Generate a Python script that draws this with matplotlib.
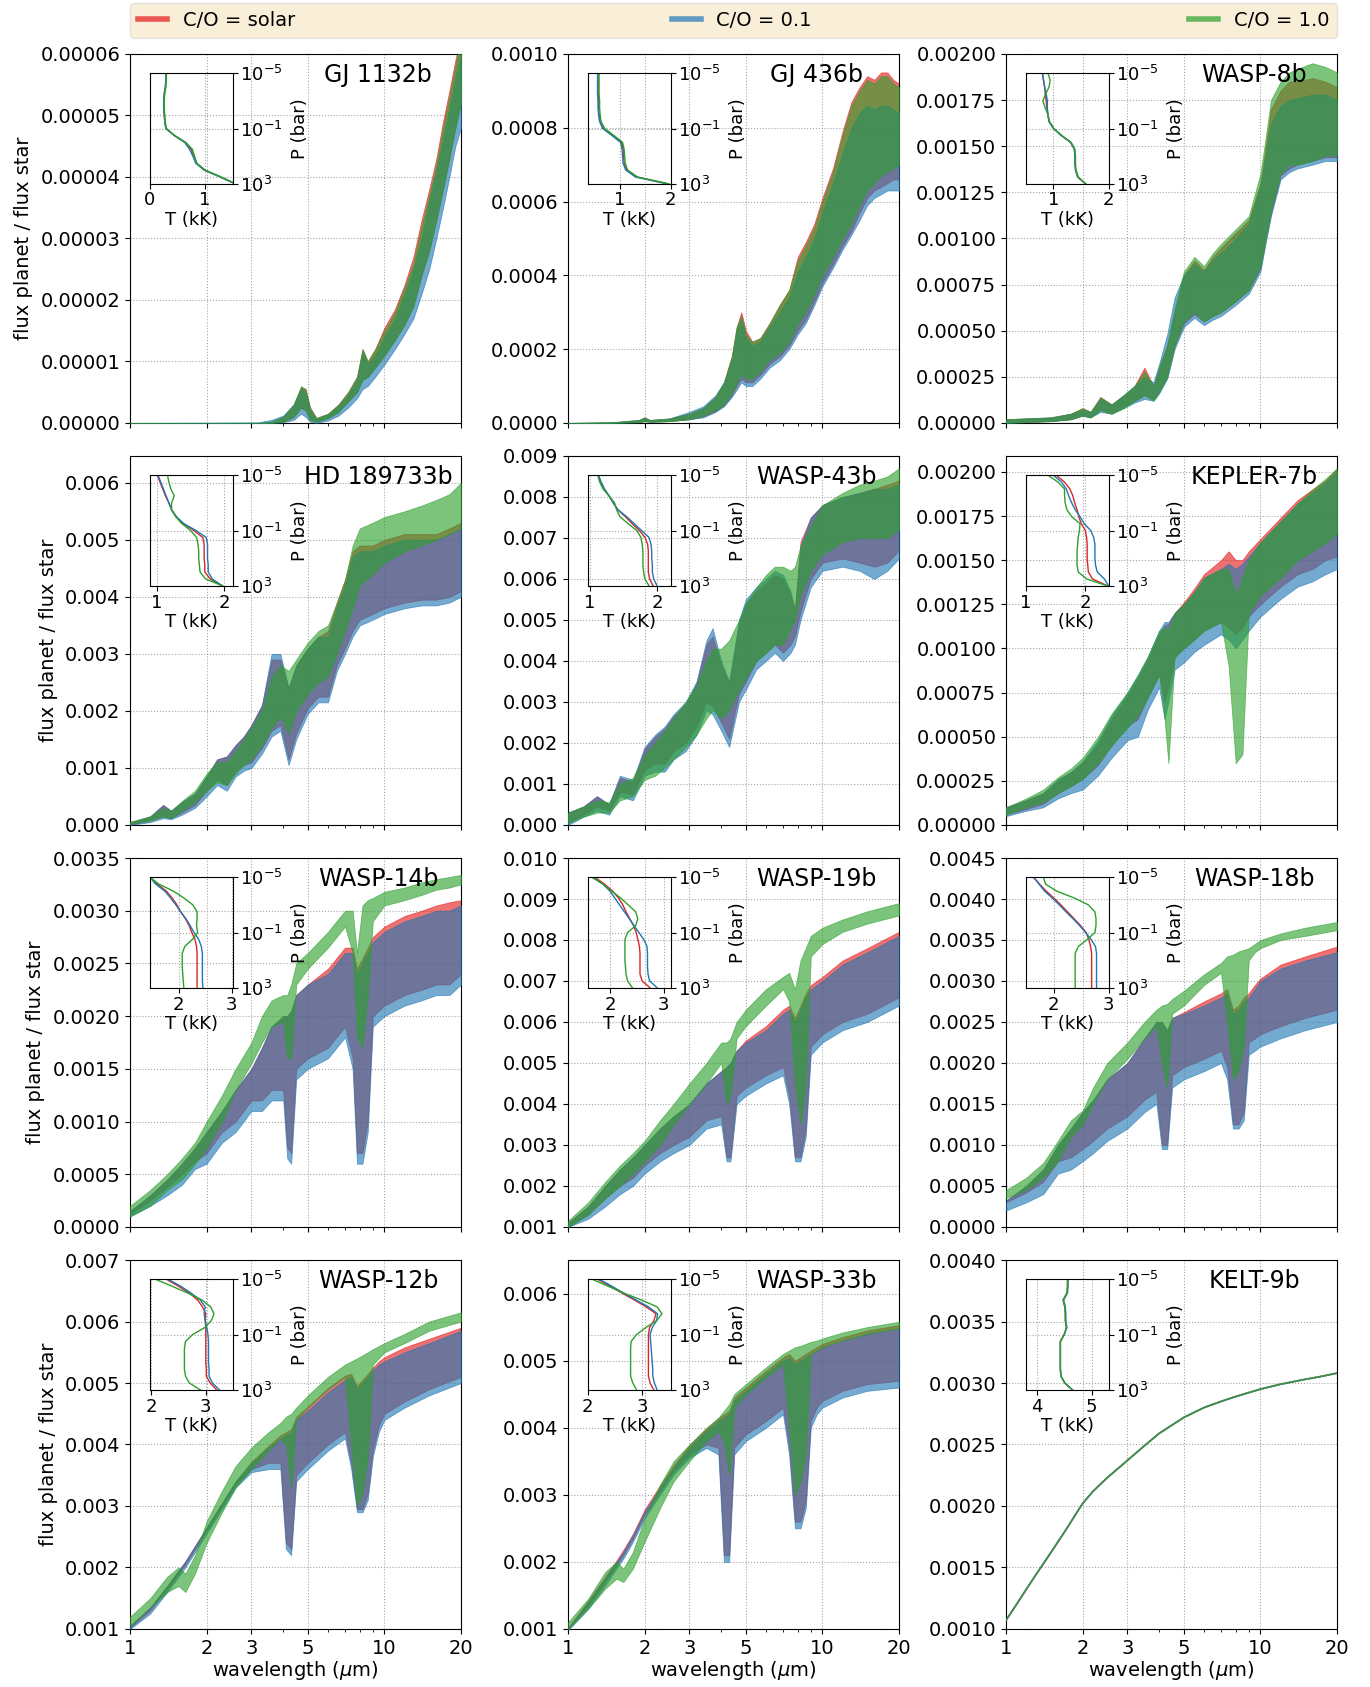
import matplotlib
matplotlib.use("Agg")
import matplotlib.pyplot as plt
import numpy as np
from matplotlib.lines import Line2D
from matplotlib.ticker import (MultipleLocator, FixedLocator, NullFormatter,
                               NullLocator, ScalarFormatter, FixedFormatter)

# pressure grid of the T-P insets, log10(P / bar)
logp = [-5, -4.5, -4, -3.5, -3, -2.5, -2, -1.5, -1, -0.5, 0, 0.5, 1, 1.5, 2, 2.5, 3]

# ---------------- GJ 1132b (flux ratio in 1e-5) ----------------
gj1132b_wl = [1.0, 3.2, 3.6, 4.0, 4.4, 4.7, 4.9, 5.1, 5.4, 6.0, 6.6, 7.2, 7.8, 8.2, 8.6, 9.2,
              10, 11, 12, 13, 14, 15, 16, 17, 18, 19, 20]
gj1132b_red_hi = [0, 0, 0.02, 0.1, 0.3, 0.58, 0.55, 0.25, 0.08, 0.15, 0.3, 0.5, 0.75, 1.2, 1.0, 1.2,
                  1.55, 1.85, 2.25, 2.7, 3.3, 3.8, 4.3, 4.9, 5.4, 5.9, 6.3]
gj1132b_red_lo = [0, 0, 0, 0.02, 0.1, 0.25, 0.2, 0.05, 0.02, 0.08, 0.18, 0.35, 0.5, 0.7, 0.75, 0.9,
                  1.1, 1.35, 1.6, 1.9, 2.4, 2.8, 3.3, 3.8, 4.3, 4.8, 5.2]
gj1132b_blue_hi = [0, 0.01, 0.05, 0.12, 0.3, 0.55, 0.5, 0.2, 0.07, 0.14, 0.28, 0.45, 0.7, 1.15, 0.95, 1.1,
                   1.4, 1.7, 2.1, 2.5, 3.0, 3.6, 4.1, 4.6, 5.1, 5.6, 6.0]
gj1132b_blue_lo = [0, 0, 0, 0.01, 0.05, 0.15, 0.1, 0.02, 0.0, 0.04, 0.12, 0.25, 0.4, 0.55, 0.6, 0.75,
                   0.95, 1.2, 1.45, 1.7, 2.1, 2.5, 3.0, 3.5, 4.0, 4.5, 4.8]
gj1132b_green_hi = [0, 0, 0.02, 0.1, 0.3, 0.6, 0.55, 0.25, 0.08, 0.15, 0.3, 0.5, 0.75, 1.2, 1.0, 1.2,
                    1.5, 1.8, 2.2, 2.6, 3.2, 3.7, 4.2, 4.8, 5.3, 5.8, 6.3]
gj1132b_green_lo = [0, 0, 0, 0.02, 0.1, 0.25, 0.2, 0.05, 0.02, 0.08, 0.18, 0.35, 0.5, 0.7, 0.75, 0.9,
                    1.1, 1.35, 1.6, 1.9, 2.4, 2.8, 3.3, 3.8, 4.3, 4.8, 5.2]
gj1132b_t_red = [0.29, 0.29, 0.28, 0.26, 0.25, 0.25, 0.26, 0.27, 0.29, 0.44, 0.64, 0.75, 0.80, 0.84, 0.99, 1.28, 1.55]
gj1132b_t_blue = [0.29, 0.29, 0.28, 0.26, 0.25, 0.25, 0.26, 0.27, 0.29, 0.44, 0.63, 0.72, 0.78, 0.83, 0.98, 1.27, 1.55]
gj1132b_t_green = [0.30, 0.30, 0.29, 0.27, 0.26, 0.26, 0.27, 0.28, 0.30, 0.45, 0.65, 0.77, 0.81, 0.85, 1.00, 1.29, 1.56]

# ---------------- GJ 436b (1e-4) ----------------
gj436b_wl = [1.0, 1.5, 1.9, 2.0, 2.1, 2.5, 3.0, 3.4, 3.8, 4.1, 4.4, 4.6, 4.8, 5.0, 5.3, 5.7, 6.2, 6.8,
             7.4, 8.0, 8.6, 9.3, 10, 11, 12, 13, 14, 15, 16, 17, 18, 19, 20]
gj436b_red_hi = [0, 0.02, 0.08, 0.15, 0.08, 0.12, 0.25, 0.4, 0.7, 1.1, 1.8, 2.6, 3.0, 2.5, 2.2, 2.3, 2.7, 3.2,
                 3.6, 4.5, 4.9, 5.4, 6.1, 6.9, 7.9, 8.7, 9.1, 9.4, 9.3, 9.5, 9.5, 9.3, 9.2]
gj436b_red_lo = [0, 0, 0.02, 0.05, 0.03, 0.05, 0.1, 0.18, 0.32, 0.48, 0.75, 1.0, 1.2, 1.1, 1.1, 1.3, 1.6, 1.8,
                 2.1, 2.5, 2.8, 3.3, 3.8, 4.3, 4.8, 5.2, 5.7, 6.1, 6.3, 6.4, 6.5, 6.6, 6.6]
gj436b_blue_hi = [0, 0.02, 0.08, 0.14, 0.08, 0.12, 0.3, 0.45, 0.75, 1.1, 1.7, 2.5, 2.8, 2.3, 2.1, 2.2, 2.6, 3.0,
                  3.4, 4.1, 4.5, 5.0, 5.7, 6.5, 7.3, 8.0, 8.4, 8.6, 8.5, 8.6, 8.6, 8.5, 8.4]
gj436b_blue_lo = [0, 0, 0.02, 0.05, 0.03, 0.05, 0.1, 0.15, 0.3, 0.45, 0.7, 0.9, 1.1, 1.0, 1.0, 1.2, 1.5, 1.7,
                  2.0, 2.4, 2.7, 3.2, 3.7, 4.2, 4.7, 5.1, 5.5, 5.9, 6.1, 6.2, 6.3, 6.3, 6.3]
gj436b_green_hi = [0, 0.02, 0.08, 0.15, 0.08, 0.12, 0.25, 0.4, 0.7, 1.1, 1.8, 2.6, 2.9, 2.4, 2.2, 2.3, 2.7, 3.2,
                   3.6, 4.4, 4.8, 5.3, 6.0, 6.8, 7.8, 8.6, 9.0, 9.3, 9.2, 9.4, 9.4, 9.2, 9.1]
gj436b_green_lo = [0, 0, 0.02, 0.05, 0.03, 0.05, 0.1, 0.2, 0.35, 0.5, 0.8, 1.1, 1.3, 1.2, 1.2, 1.4, 1.7, 1.9,
                   2.2, 2.7, 3.0, 3.5, 4.0, 4.5, 5.0, 5.4, 5.9, 6.3, 6.5, 6.7, 6.8, 6.9, 7.0]
gj436b_t_red = [0.58, 0.58, 0.58, 0.58, 0.59, 0.59, 0.60, 0.62, 0.69, 0.87, 1.04, 1.07, 1.08, 1.09, 1.14, 1.33, 1.95]
gj436b_t_blue = [0.57, 0.57, 0.57, 0.57, 0.58, 0.58, 0.59, 0.61, 0.67, 0.85, 1.02, 1.05, 1.06, 1.07, 1.12, 1.31, 1.93]
gj436b_t_green = [0.60, 0.60, 0.60, 0.60, 0.61, 0.61, 0.62, 0.64, 0.71, 0.89, 1.06, 1.09, 1.10, 1.11, 1.16, 1.35, 1.97]

# ---------------- WASP-8b (1e-3) ----------------
wasp8b_wl = [1.0, 1.5, 1.8, 2.0, 2.15, 2.35, 2.6, 2.9, 3.2, 3.5, 3.8, 4.0, 4.3, 4.6, 5.0, 5.5, 6.0, 6.5,
             7.0, 8.0, 9.0, 10, 10.5, 11, 12, 13, 14, 16, 18, 20]
wasp8b_red_hi = [0.02, 0.03, 0.05, 0.08, 0.06, 0.14, 0.1, 0.15, 0.2, 0.3, 0.2, 0.3, 0.42, 0.6, 0.8, 0.88, 0.83, 0.9,
                 0.95, 1.03, 1.1, 1.3, 1.5, 1.7, 1.8, 1.85, 1.85, 1.87, 1.85, 1.82]
wasp8b_red_lo = [0.0, 0.01, 0.02, 0.04, 0.03, 0.07, 0.05, 0.09, 0.12, 0.15, 0.13, 0.17, 0.25, 0.42, 0.54, 0.59, 0.55, 0.58,
                 0.6, 0.66, 0.72, 0.84, 1.0, 1.14, 1.34, 1.38, 1.4, 1.42, 1.44, 1.44]
wasp8b_blue_hi = [0.02, 0.03, 0.05, 0.07, 0.06, 0.13, 0.1, 0.15, 0.2, 0.25, 0.22, 0.32, 0.48, 0.68, 0.8, 0.86, 0.82, 0.88,
                  0.92, 1.0, 1.08, 1.28, 1.45, 1.62, 1.72, 1.75, 1.76, 1.78, 1.78, 1.75]
wasp8b_blue_lo = [0.0, 0.01, 0.02, 0.04, 0.03, 0.06, 0.05, 0.08, 0.11, 0.13, 0.12, 0.16, 0.24, 0.4, 0.52, 0.57, 0.53, 0.56,
                  0.58, 0.64, 0.7, 0.82, 0.98, 1.12, 1.32, 1.36, 1.38, 1.4, 1.42, 1.42]
wasp8b_green_hi = [0.02, 0.03, 0.05, 0.08, 0.06, 0.14, 0.1, 0.15, 0.2, 0.28, 0.2, 0.3, 0.42, 0.62, 0.82, 0.9, 0.85, 0.92,
                   0.97, 1.05, 1.12, 1.35, 1.55, 1.75, 1.85, 1.9, 1.92, 1.95, 1.93, 1.9]
wasp8b_green_lo = [0.0, 0.01, 0.02, 0.04, 0.03, 0.07, 0.05, 0.08, 0.12, 0.15, 0.12, 0.17, 0.25, 0.42, 0.55, 0.6, 0.55, 0.58,
                   0.6, 0.66, 0.72, 0.85, 1.0, 1.15, 1.35, 1.4, 1.4, 1.42, 1.45, 1.45]
wasp8b_t_red = [0.80, 0.82, 0.84, 0.85, 0.87, 0.88, 0.90, 0.92, 1.00, 1.14, 1.31, 1.38, 1.39, 1.39, 1.40, 1.44, 1.58]
wasp8b_t_blue = [0.80, 0.82, 0.84, 0.87, 0.89, 0.89, 0.90, 0.92, 1.00, 1.14, 1.31, 1.38, 1.39, 1.39, 1.40, 1.44, 1.58]
wasp8b_t_green = [0.90, 0.94, 0.92, 0.86, 0.81, 0.85, 0.90, 0.93, 1.01, 1.15, 1.32, 1.39, 1.40, 1.40, 1.41, 1.45, 1.59]

# ---------------- HD 189733b (1e-3) ----------------
hd189_wl = [1.0, 1.2, 1.35, 1.45, 1.6, 1.8, 2.0, 2.2, 2.4, 2.6, 2.8, 3.0, 3.3, 3.6, 3.9, 4.2, 4.5, 5.0,
            5.5, 6.0, 6.5, 7.0, 7.5, 8.0, 9.0, 10, 12, 14, 16, 18, 20]
hd189_red_hi = [0.05, 0.15, 0.35, 0.25, 0.4, 0.55, 0.85, 1.15, 1.2, 1.4, 1.55, 1.75, 2.1, 2.9, 2.9, 2.4, 2.8, 3.1,
                3.3, 3.4, 3.9, 4.3, 4.8, 4.9, 4.9, 5.0, 5.1, 5.1, 5.1, 5.2, 5.3]
hd189_red_lo = [0.0, 0.08, 0.15, 0.12, 0.22, 0.35, 0.6, 0.8, 0.7, 0.95, 1.05, 1.1, 1.35, 1.65, 1.75, 1.15, 1.6, 2.05,
                2.25, 2.25, 2.8, 3.1, 3.4, 3.6, 3.7, 3.8, 3.9, 3.95, 3.95, 4.0, 4.1]
hd189_blue_hi = [0.05, 0.15, 0.35, 0.25, 0.4, 0.55, 0.85, 1.15, 1.2, 1.4, 1.55, 1.75, 2.1, 3.0, 3.0, 2.4, 2.8, 3.1,
                 3.3, 3.3, 3.8, 4.2, 4.7, 4.8, 4.8, 4.9, 5.0, 5.0, 5.0, 5.1, 5.2]
hd189_blue_lo = [0.0, 0.05, 0.12, 0.1, 0.18, 0.3, 0.5, 0.7, 0.6, 0.85, 0.95, 1.0, 1.25, 1.55, 1.65, 1.05, 1.5, 1.95,
                 2.15, 2.15, 2.7, 3.0, 3.3, 3.5, 3.6, 3.7, 3.8, 3.85, 3.85, 3.9, 4.0]
hd189_green_hi = [0.05, 0.15, 0.3, 0.25, 0.42, 0.6, 0.9, 1.1, 1.1, 1.3, 1.5, 1.7, 2.0, 2.6, 2.8, 2.7, 2.9, 3.2,
                  3.4, 3.5, 3.9, 4.3, 4.9, 5.2, 5.3, 5.4, 5.5, 5.6, 5.7, 5.8, 6.0]
hd189_green_lo = [0.02, 0.08, 0.15, 0.12, 0.25, 0.4, 0.6, 0.75, 0.7, 0.9, 1.05, 1.15, 1.4, 1.7, 1.9, 1.6, 2.0, 2.3,
                  2.5, 2.6, 3.0, 3.4, 3.8, 4.2, 4.4, 4.6, 4.8, 4.9, 5.0, 5.1, 5.2]
hd189_t_red = [1.01, 1.05, 1.09, 1.13, 1.18, 1.22, 1.29, 1.39, 1.55, 1.68, 1.70, 1.70, 1.70, 1.71, 1.71, 1.79, 1.97]
hd189_t_blue = [1.02, 1.06, 1.10, 1.14, 1.18, 1.22, 1.29, 1.40, 1.58, 1.73, 1.75, 1.75, 1.75, 1.76, 1.76, 1.82, 1.97]
hd189_t_green = [1.16, 1.18, 1.21, 1.26, 1.22, 1.22, 1.28, 1.37, 1.50, 1.59, 1.61, 1.62, 1.62, 1.63, 1.64, 1.72, 1.97]

# ---------------- WASP-43b (1e-3) ----------------
wasp43b_wl = [1.0, 1.15, 1.3, 1.45, 1.6, 1.8, 2.0, 2.2, 2.4, 2.6, 2.9, 3.2, 3.5, 3.7, 4.0, 4.3, 4.7, 5.0,
              5.5, 6.0, 6.5, 7.0, 7.5, 7.8, 8.2, 9.0, 10, 12, 14, 16, 18, 20]
wasp43b_red_hi = [0.3, 0.45, 0.7, 0.5, 1.15, 1.05, 1.85, 2.15, 2.35, 2.65, 2.95, 3.45, 4.4, 4.6, 3.9, 3.45, 4.9, 5.4,
                  5.7, 5.9, 6.1, 6.0, 5.6, 5.3, 6.9, 7.5, 7.8, 8.0, 8.1, 8.2, 8.3, 8.4]
wasp43b_red_lo = [0.05, 0.25, 0.45, 0.35, 0.8, 0.75, 1.35, 1.5, 1.5, 1.8, 2.0, 2.4, 3.0, 2.9, 2.5, 2.1, 3.2, 3.5,
                  4.0, 4.2, 4.4, 4.2, 4.4, 4.6, 5.2, 6.0, 6.4, 6.5, 6.4, 6.3, 6.4, 6.7]
wasp43b_blue_hi = [0.3, 0.45, 0.7, 0.5, 1.2, 1.1, 1.9, 2.2, 2.4, 2.7, 3.0, 3.5, 4.5, 4.8, 4.0, 3.5, 5.0, 5.5,
                   5.8, 6.0, 6.2, 6.1, 5.7, 5.2, 6.8, 7.5, 7.8, 8.0, 8.1, 8.2, 8.2, 8.3]
wasp43b_blue_lo = [0.0, 0.2, 0.35, 0.25, 0.7, 0.6, 1.2, 1.3, 1.3, 1.6, 1.8, 2.2, 2.8, 2.7, 2.3, 1.9, 3.0, 3.3,
                   3.8, 4.0, 4.2, 4.0, 4.2, 4.4, 5.0, 5.8, 6.2, 6.3, 6.2, 6.0, 6.2, 6.5]
wasp43b_green_hi = [0.3, 0.45, 0.6, 0.55, 1.0, 1.15, 1.7, 2.0, 2.3, 2.6, 3.0, 3.4, 4.0, 4.3, 4.3, 4.5, 5.0, 5.4,
                    5.8, 6.1, 6.3, 6.3, 6.2, 6.3, 6.8, 7.3, 7.8, 8.1, 8.3, 8.4, 8.5, 8.7]
wasp43b_green_lo = [0.05, 0.2, 0.3, 0.3, 0.6, 0.7, 1.1, 1.2, 1.4, 1.6, 1.9, 2.2, 2.6, 2.8, 2.6, 2.8, 3.3, 3.6,
                    4.0, 4.2, 4.4, 4.4, 4.8, 5.0, 5.6, 6.2, 6.6, 6.9, 7.0, 7.0, 7.0, 7.2]
wasp43b_t_red = [1.13, 1.17, 1.22, 1.29, 1.35, 1.42, 1.53, 1.63, 1.74, 1.82, 1.86, 1.87, 1.87, 1.87, 1.87, 1.89, 1.94]
wasp43b_t_blue = [1.13, 1.17, 1.22, 1.29, 1.35, 1.42, 1.55, 1.66, 1.77, 1.88, 1.91, 1.92, 1.92, 1.93, 1.93, 1.95, 2.00]
wasp43b_t_green = [1.12, 1.15, 1.20, 1.29, 1.37, 1.40, 1.45, 1.57, 1.70, 1.76, 1.78, 1.79, 1.79, 1.79, 1.80, 1.82, 1.88]

# ---------------- KEPLER-7b (1e-3) ----------------
kepler7b_wl = [1.0, 1.2, 1.4, 1.6, 1.8, 2.0, 2.3, 2.6, 3.0, 3.3, 3.6, 4.0, 4.2, 4.35, 4.6, 5.0, 5.5, 6.0,
               7.0, 7.5, 8.0, 8.5, 9.0, 10, 12, 14, 16, 18, 20]
kepler7b_red_hi = [0.1, 0.14, 0.18, 0.25, 0.3, 0.35, 0.46, 0.6, 0.73, 0.83, 0.93, 1.08, 1.13, 1.14, 1.2, 1.26, 1.34, 1.42,
                   1.5, 1.55, 1.5, 1.5, 1.55, 1.62, 1.74, 1.84, 1.9, 1.95, 2.02]
kepler7b_red_lo = [0.06, 0.09, 0.12, 0.18, 0.22, 0.26, 0.34, 0.45, 0.56, 0.6, 0.72, 0.85, 0.7, 0.78, 0.95, 1.0, 1.05, 1.1,
                   1.15, 1.12, 1.08, 1.12, 1.18, 1.25, 1.35, 1.42, 1.45, 1.5, 1.52]
kepler7b_blue_hi = [0.1, 0.14, 0.18, 0.26, 0.3, 0.36, 0.48, 0.62, 0.75, 0.85, 0.95, 1.1, 1.15, 1.15, 1.2, 1.25, 1.32, 1.4,
                    1.45, 1.48, 1.45, 1.48, 1.52, 1.6, 1.72, 1.82, 1.88, 1.94, 2.0]
kepler7b_blue_lo = [0.05, 0.08, 0.1, 0.15, 0.18, 0.2, 0.28, 0.38, 0.48, 0.5, 0.65, 0.78, 0.6, 0.7, 0.88, 0.92, 0.98, 1.02,
                    1.08, 1.05, 1.0, 1.05, 1.1, 1.18, 1.28, 1.35, 1.38, 1.42, 1.45]
kepler7b_green_hi = [0.1, 0.15, 0.2, 0.27, 0.32, 0.38, 0.5, 0.63, 0.75, 0.85, 0.95, 1.1, 1.12, 1.1, 1.2, 1.25, 1.32, 1.4,
                     1.45, 1.45, 1.3, 1.4, 1.5, 1.6, 1.72, 1.82, 1.9, 1.96, 2.02]
kepler7b_green_lo = [0.06, 0.1, 0.13, 0.18, 0.22, 0.26, 0.35, 0.45, 0.55, 0.62, 0.72, 0.85, 0.6, 0.35, 0.95, 1.0, 1.05, 1.1,
                     1.15, 0.9, 0.35, 0.4, 1.2, 1.3, 1.4, 1.5, 1.55, 1.6, 1.65]
kepler7b_t_red = [1.51, 1.65, 1.74, 1.79, 1.82, 1.86, 1.89, 1.93, 2.00, 2.02, 2.03, 2.03, 2.03, 2.04, 2.05, 2.12, 2.37]
kepler7b_t_blue = [1.46, 1.60, 1.68, 1.72, 1.77, 1.83, 1.91, 1.98, 2.09, 2.14, 2.16, 2.16, 2.16, 2.17, 2.20, 2.32, 2.39]
kepler7b_t_green = [1.37, 1.54, 1.65, 1.65, 1.66, 1.69, 1.77, 1.91, 1.90, 1.88, 1.87, 1.86, 1.86, 1.86, 1.88, 2.02, 2.37]

# ---------------- WASP-14b (1e-3) ----------------
wasp14b_wl = [1.0, 1.2, 1.4, 1.6, 1.8, 2.0, 2.3, 2.6, 3.0, 3.3, 3.6, 4.0, 4.15, 4.3, 4.5, 5.0, 6.0, 7.0,
              7.5, 7.8, 8.2, 8.6, 9.0, 10, 12, 14, 16, 18, 20]
wasp14b_red_hi = [0.15, 0.3, 0.45, 0.6, 0.75, 0.9, 1.1, 1.3, 1.5, 1.7, 1.9, 2.0, 2.0, 2.05, 2.2, 2.3, 2.45, 2.65,
                  2.65, 2.45, 2.55, 2.65, 2.75, 2.85, 2.95, 3.0, 3.05, 3.08, 3.1]
wasp14b_red_lo = [0.12, 0.25, 0.38, 0.5, 0.62, 0.7, 0.9, 1.0, 1.2, 1.2, 1.3, 1.3, 0.75, 0.7, 1.5, 1.6, 1.7, 1.9,
                  1.6, 0.7, 0.7, 1.0, 2.0, 2.1, 2.2, 2.25, 2.3, 2.3, 2.4]
wasp14b_blue_hi = [0.15, 0.3, 0.45, 0.6, 0.75, 0.9, 1.1, 1.3, 1.5, 1.7, 1.9, 2.0, 2.0, 2.05, 2.2, 2.3, 2.4, 2.6,
                   2.6, 2.4, 2.5, 2.6, 2.7, 2.8, 2.9, 2.95, 3.0, 3.0, 3.05]
wasp14b_blue_lo = [0.1, 0.2, 0.3, 0.4, 0.55, 0.6, 0.8, 0.9, 1.1, 1.1, 1.2, 1.2, 0.65, 0.6, 1.4, 1.5, 1.6, 1.8,
                   1.5, 0.6, 0.6, 0.9, 1.9, 2.0, 2.1, 2.15, 2.2, 2.2, 2.3]
wasp14b_green_hi = [0.2, 0.35, 0.5, 0.65, 0.8, 1.0, 1.25, 1.5, 1.75, 2.0, 2.15, 2.2, 2.2, 2.3, 2.5, 2.6, 2.8, 3.0,
                    3.0, 2.6, 3.05, 3.1, 3.12, 3.18, 3.22, 3.27, 3.3, 3.32, 3.34]
wasp14b_green_lo = [0.1, 0.2, 0.35, 0.45, 0.6, 0.75, 1.0, 1.3, 1.55, 1.75, 1.9, 1.95, 1.6, 1.6, 2.3, 2.45, 2.65, 2.85,
                    2.6, 1.8, 1.7, 2.2, 2.9, 3.05, 3.1, 3.15, 3.2, 3.22, 3.25]
wasp14b_t_red = [1.47, 1.60, 1.77, 1.88, 1.97, 2.04, 2.13, 2.20, 2.25, 2.31, 2.34, 2.35, 2.35, 2.35, 2.35, 2.35, 2.35]
wasp14b_t_blue = [1.46, 1.57, 1.74, 1.85, 1.95, 2.04, 2.14, 2.22, 2.29, 2.38, 2.43, 2.45, 2.45, 2.45, 2.45, 2.45, 2.46]
wasp14b_t_green = [1.46, 1.63, 1.90, 2.10, 2.27, 2.35, 2.35, 2.34, 2.36, 2.26, 2.12, 2.07, 2.07, 2.07, 2.08, 2.09, 2.10]

# ---------------- WASP-19b (1e-3) ----------------
wasp19b_wl = [1.0, 1.2, 1.4, 1.6, 1.8, 2.0, 2.3, 2.6, 3.0, 3.5, 4.0, 4.2, 4.35, 4.6, 5.0, 6.0, 7.0, 7.4,
              7.8, 8.2, 8.6, 9.0, 10, 12, 15, 20]
wasp19b_red_hi = [1.1, 1.5, 2.0, 2.4, 2.7, 3.0, 3.4, 3.7, 4.0, 4.5, 4.8, 4.9, 5.0, 5.3, 5.55, 5.9, 6.3, 6.4,
                  6.1, 6.4, 6.7, 6.9, 7.1, 7.5, 7.8, 8.2]
wasp19b_red_lo = [1.0, 1.3, 1.7, 2.0, 2.2, 2.5, 2.8, 3.0, 3.2, 3.6, 3.7, 2.7, 2.7, 4.2, 4.4, 4.7, 4.9, 4.2,
                  2.7, 2.7, 3.4, 5.4, 5.7, 6.0, 6.2, 6.6]
wasp19b_blue_hi = [1.1, 1.5, 2.0, 2.4, 2.7, 3.0, 3.4, 3.7, 4.0, 4.5, 4.8, 4.9, 5.0, 5.3, 5.5, 5.8, 6.2, 6.3,
                   6.0, 6.3, 6.6, 6.8, 7.0, 7.4, 7.7, 8.1]
wasp19b_blue_lo = [1.0, 1.2, 1.5, 1.8, 2.0, 2.3, 2.6, 2.8, 3.0, 3.4, 3.5, 2.6, 2.6, 4.0, 4.2, 4.5, 4.7, 4.0,
                   2.6, 2.6, 3.2, 5.2, 5.5, 5.8, 6.0, 6.4]
wasp19b_green_hi = [1.15, 1.6, 2.1, 2.5, 2.8, 3.1, 3.6, 4.0, 4.5, 5.0, 5.5, 5.5, 5.6, 6.0, 6.3, 6.8, 7.1, 7.2,
                    6.8, 7.5, 7.8, 8.1, 8.3, 8.5, 8.7, 8.9]
wasp19b_green_lo = [1.0, 1.3, 1.7, 2.0, 2.3, 2.6, 3.0, 3.5, 4.0, 4.5, 5.0, 4.0, 4.2, 5.6, 5.9, 6.4, 6.8, 6.5,
                    4.5, 3.5, 4.5, 7.6, 7.9, 8.2, 8.4, 8.6]
wasp19b_t_red = [1.72, 1.90, 2.05, 2.16, 2.24, 2.30, 2.37, 2.44, 2.49, 2.52, 2.55, 2.56, 2.56, 2.56, 2.56, 2.60, 2.75]
wasp19b_t_blue = [1.67, 1.87, 2.00, 2.09, 2.18, 2.27, 2.36, 2.45, 2.54, 2.63, 2.69, 2.70, 2.70, 2.70, 2.71, 2.74, 2.88]
wasp19b_t_green = [1.67, 1.87, 2.03, 2.20, 2.34, 2.48, 2.52, 2.48, 2.33, 2.28, 2.28, 2.28, 2.28, 2.29, 2.30, 2.33, 2.42]

# ---------------- WASP-18b (1e-3) ----------------
wasp18b_wl = [1.0, 1.2, 1.4, 1.6, 1.8, 2.0, 2.2, 2.5, 3.0, 3.5, 3.9, 4.1, 4.3, 4.5, 5.0, 6.0, 7.0, 7.4,
              7.8, 8.2, 8.6, 9.0, 9.5, 10, 12, 15, 20]
wasp18b_red_hi = [0.32, 0.5, 0.7, 1.0, 1.2, 1.4, 1.55, 1.8, 2.0, 2.3, 2.5, 2.5, 2.4, 2.55, 2.62, 2.75, 2.85, 2.9,
                  2.65, 2.7, 2.8, 2.85, 2.95, 3.03, 3.2, 3.3, 3.42]
wasp18b_red_lo = [0.3, 0.42, 0.55, 0.8, 0.85, 0.95, 1.05, 1.2, 1.35, 1.55, 1.65, 1.0, 1.0, 1.85, 1.95, 2.05, 2.15, 1.95,
                  1.25, 1.25, 1.4, 2.25, 2.3, 2.35, 2.45, 2.55, 2.65]
wasp18b_blue_hi = [0.32, 0.5, 0.7, 1.0, 1.2, 1.4, 1.55, 1.8, 2.0, 2.3, 2.5, 2.5, 2.4, 2.55, 2.6, 2.7, 2.8, 2.85,
                   2.6, 2.65, 2.75, 2.8, 2.9, 3.0, 3.15, 3.25, 3.35]
wasp18b_blue_lo = [0.2, 0.3, 0.4, 0.65, 0.7, 0.8, 0.9, 1.05, 1.2, 1.4, 1.5, 0.95, 0.95, 1.7, 1.8, 1.9, 2.0, 1.8,
                   1.2, 1.2, 1.3, 2.1, 2.15, 2.2, 2.3, 2.4, 2.5]
wasp18b_green_hi = [0.45, 0.6, 0.78, 1.05, 1.3, 1.42, 1.7, 2.0, 2.25, 2.5, 2.65, 2.7, 2.72, 2.78, 2.88, 3.08, 3.22, 3.3,
                    3.32, 3.36, 3.38, 3.4, 3.45, 3.5, 3.58, 3.65, 3.72]
wasp18b_green_lo = [0.35, 0.45, 0.6, 0.8, 1.1, 1.25, 1.5, 1.8, 2.05, 2.3, 2.45, 2.0, 1.7, 2.6, 2.7, 2.95, 3.1, 2.5,
                    1.8, 1.9, 2.2, 3.25, 3.35, 3.4, 3.5, 3.55, 3.62]
wasp18b_t_red = [1.63, 1.74, 1.86, 2.00, 2.13, 2.25, 2.37, 2.49, 2.59, 2.64, 2.67, 2.69, 2.69, 2.69, 2.69, 2.69, 2.69]
wasp18b_t_blue = [1.63, 1.73, 1.83, 1.97, 2.10, 2.22, 2.35, 2.47, 2.58, 2.68, 2.76, 2.78, 2.78, 2.78, 2.78, 2.78, 2.78]
wasp18b_t_green = [1.81, 1.85, 2.05, 2.37, 2.63, 2.75, 2.77, 2.77, 2.75, 2.61, 2.45, 2.39, 2.39, 2.39, 2.39, 2.39, 2.39]

# ---------------- WASP-12b (1e-3) ----------------
wasp12b_wl = [1.0, 1.2, 1.4, 1.55, 1.65, 1.8, 2.0, 2.3, 2.6, 3.0, 3.5, 3.9, 4.1, 4.3, 4.5, 5.0, 6.0, 7.0,
              7.4, 7.8, 8.2, 8.6, 9.0, 9.5, 10, 12, 15, 20]
wasp12b_red_hi = [1.05, 1.35, 1.7, 1.95, 2.1, 2.35, 2.65, 3.05, 3.4, 3.72, 3.98, 4.15, 4.2, 4.25, 4.45, 4.62, 4.92, 5.12,
                  5.15, 4.95, 5.05, 5.15, 5.25, 5.35, 5.42, 5.58, 5.72, 5.9]
wasp12b_red_lo = [1.02, 1.3, 1.65, 1.9, 2.05, 2.3, 2.6, 3.0, 3.35, 3.6, 3.7, 3.7, 2.4, 2.3, 3.5, 3.7, 4.0, 4.2,
                  3.7, 2.95, 2.95, 3.2, 3.9, 4.3, 4.5, 4.7, 4.9, 5.1]
wasp12b_blue_hi = [1.05, 1.35, 1.7, 1.95, 2.1, 2.35, 2.65, 3.05, 3.4, 3.7, 3.95, 4.1, 4.15, 4.2, 4.4, 4.55, 4.85, 5.05,
                   5.1, 4.9, 5.0, 5.1, 5.2, 5.3, 5.35, 5.5, 5.65, 5.85]
wasp12b_blue_lo = [1.0, 1.25, 1.6, 1.85, 2.0, 2.25, 2.55, 2.95, 3.3, 3.55, 3.6, 3.6, 2.3, 2.2, 3.4, 3.6, 3.9, 4.1,
                   3.6, 2.9, 2.9, 3.1, 3.8, 4.2, 4.4, 4.6, 4.8, 5.0]
wasp12b_green_hi = [1.2, 1.5, 1.85, 2.0, 1.9, 2.2, 2.75, 3.25, 3.65, 3.95, 4.2, 4.35, 4.45, 4.5, 4.6, 4.8, 5.1, 5.3,
                    5.35, 5.4, 5.45, 5.5, 5.55, 5.6, 5.65, 5.8, 6.0, 6.15]
wasp12b_green_lo = [1.05, 1.35, 1.6, 1.7, 1.6, 1.9, 2.4, 2.9, 3.3, 3.6, 3.9, 4.1, 4.0, 3.3, 4.4, 4.6, 4.9, 5.1,
                    4.0, 3.0, 3.2, 3.8, 5.3, 5.4, 5.5, 5.65, 5.85, 6.0]
wasp12b_t_red = [2.28, 2.50, 2.70, 2.85, 2.94, 3.00, 2.99, 3.00, 3.00, 3.00, 3.00, 3.00, 3.00, 3.01, 3.01, 3.08, 3.20]
wasp12b_t_blue = [2.31, 2.54, 2.73, 2.90, 2.99, 2.97, 2.99, 3.02, 3.04, 3.05, 3.05, 3.05, 3.05, 3.06, 3.06, 3.12, 3.25]
wasp12b_t_green = [2.08, 2.38, 2.67, 2.93, 3.09, 3.15, 3.10, 2.98, 2.76, 2.63, 2.61, 2.61, 2.61, 2.61, 2.63, 2.70, 2.90]

# ---------------- WASP-33b (1e-3) ----------------
wasp33b_wl = [1.0, 1.2, 1.4, 1.55, 1.65, 1.8, 2.0, 2.3, 2.6, 3.0, 3.5, 3.9, 4.1, 4.3, 4.5, 5.0, 6.0, 7.0,
              7.4, 7.8, 8.2, 8.6, 9.0, 9.5, 10, 12, 15, 20]
wasp33b_red_hi = [1.02, 1.42, 1.78, 2.02, 2.18, 2.42, 2.78, 3.14, 3.44, 3.74, 3.99, 4.14, 4.2, 4.25, 4.45, 4.6, 4.85, 5.05,
                  5.1, 5.0, 5.05, 5.1, 5.15, 5.2, 5.25, 5.35, 5.45, 5.53]
wasp33b_red_lo = [1.0, 1.35, 1.7, 1.95, 2.1, 2.35, 2.7, 3.05, 3.35, 3.6, 3.75, 3.7, 2.1, 2.1, 3.7, 3.9, 4.1, 4.3,
                  3.7, 2.6, 2.6, 2.9, 4.1, 4.3, 4.4, 4.55, 4.65, 4.7]
wasp33b_blue_hi = [1.0, 1.4, 1.75, 2.0, 2.15, 2.4, 2.75, 3.1, 3.4, 3.7, 3.95, 4.1, 4.15, 4.2, 4.4, 4.55, 4.8, 5.0,
                   5.05, 4.95, 5.0, 5.05, 5.1, 5.15, 5.2, 5.3, 5.4, 5.48]
wasp33b_blue_lo = [0.98, 1.3, 1.65, 1.9, 2.05, 2.3, 2.65, 3.0, 3.3, 3.55, 3.7, 3.6, 2.0, 2.0, 3.6, 3.8, 4.0, 4.2,
                   3.6, 2.5, 2.5, 2.8, 4.0, 4.2, 4.3, 4.45, 4.55, 4.6]
wasp33b_green_hi = [1.1, 1.45, 1.85, 2.0, 1.9, 2.15, 2.65, 3.15, 3.5, 3.75, 4.0, 4.15, 4.25, 4.35, 4.5, 4.65, 4.9, 5.1,
                    5.15, 5.2, 5.22, 5.25, 5.28, 5.3, 5.33, 5.42, 5.5, 5.58]
wasp33b_green_lo = [1.0, 1.3, 1.6, 1.75, 1.7, 1.9, 2.3, 2.8, 3.2, 3.5, 3.8, 3.95, 3.8, 3.3, 4.3, 4.5, 4.75, 4.95,
                    4.0, 3.0, 3.2, 3.6, 5.1, 5.15, 5.2, 5.3, 5.4, 5.48]
wasp33b_t_red = [2.18, 2.41, 2.63, 2.86, 3.08, 3.26, 3.22, 3.14, 3.12, 3.12, 3.12, 3.12, 3.12, 3.12, 3.12, 3.15, 3.22]
wasp33b_t_blue = [2.21, 2.44, 2.66, 2.89, 3.12, 3.29, 3.27, 3.19, 3.15, 3.16, 3.17, 3.18, 3.19, 3.20, 3.20, 3.23, 3.28]
wasp33b_t_green = [2.08, 2.37, 2.66, 2.99, 3.28, 3.37, 3.27, 3.07, 2.90, 2.80, 2.79, 2.79, 2.79, 2.79, 2.79, 2.83, 2.90]

# ---------------- KELT-9b (1e-3, smooth) ----------------
kelt9b_wl = [1.0, 1.1, 1.2, 1.3, 1.5, 1.7, 2.0, 2.2, 2.5, 3.0, 3.5, 4.0, 5.0, 6.0, 7.0, 8.0, 10, 12, 15, 17, 20]
kelt9b_red = [1.07, 1.20, 1.32, 1.43, 1.62, 1.79, 2.02, 2.12, 2.23, 2.37, 2.49, 2.59, 2.72, 2.80, 2.85, 2.89, 2.95,
              2.99, 3.03, 3.05, 3.08]
kelt9b_blue = [1.07, 1.20, 1.32, 1.43, 1.62, 1.79, 2.02, 2.12, 2.23, 2.37, 2.49, 2.59, 2.72, 2.80, 2.85, 2.89, 2.95,
               2.99, 3.03, 3.05, 3.08]
kelt9b_green = [1.07, 1.20, 1.32, 1.43, 1.62, 1.79, 2.02, 2.12, 2.23, 2.37, 2.49, 2.59, 2.72, 2.80, 2.85, 2.89, 2.95,
                2.99, 3.03, 3.05, 3.08]
kelt9b_t_red = [4.56, 4.56, 4.55, 4.48, 4.51, 4.52, 4.52, 4.54, 4.50, 4.43, 4.43, 4.43, 4.43, 4.43, 4.44, 4.51, 4.65]
kelt9b_t_blue = [4.57, 4.57, 4.56, 4.49, 4.52, 4.53, 4.53, 4.55, 4.50, 4.43, 4.43, 4.43, 4.43, 4.43, 4.44, 4.51, 4.65]
kelt9b_t_green = [4.56, 4.56, 4.55, 4.48, 4.51, 4.52, 4.52, 4.54, 4.50, 4.43, 4.43, 4.43, 4.43, 4.43, 4.44, 4.51, 4.65]

labels = ["C/O = solar", "C/O = 0.1", "C/O = 1.0"]
band_colors = ["#e41a1c", "#1f77b4", "#2ca02c"]
tp_colors = ["tab:red", "tab:blue", "tab:green"]

# name, unit, wl, bands(red,blue,green as (hi,lo)), tp, ylim, ystep, inset T range
panels = [
    ("GJ 1132b", 1e-5, gj1132b_wl,
     [(gj1132b_red_hi, gj1132b_red_lo), (gj1132b_blue_hi, gj1132b_blue_lo), (gj1132b_green_hi, gj1132b_green_lo)],
     [gj1132b_t_red, gj1132b_t_blue, gj1132b_t_green], (0, 6e-5), 1e-5, (0, 1.5)),
    ("GJ 436b", 1e-4, gj436b_wl,
     [(gj436b_red_hi, gj436b_red_lo), (gj436b_blue_hi, gj436b_blue_lo), (gj436b_green_hi, gj436b_green_lo)],
     [gj436b_t_red, gj436b_t_blue, gj436b_t_green], (0, 1e-3), 2e-4, (0.38, 2.0)),
    ("WASP-8b", 1e-3, wasp8b_wl,
     [(wasp8b_red_hi, wasp8b_red_lo), (wasp8b_blue_hi, wasp8b_blue_lo), (wasp8b_green_hi, wasp8b_green_lo)],
     [wasp8b_t_red, wasp8b_t_blue, wasp8b_t_green], (0, 2e-3), 2.5e-4, (0.5, 2.0)),
    ("HD 189733b", 1e-3, hd189_wl,
     [(hd189_red_hi, hd189_red_lo), (hd189_blue_hi, hd189_blue_lo), (hd189_green_hi, hd189_green_lo)],
     [hd189_t_red, hd189_t_blue, hd189_t_green], (0, 6.47e-3), 1e-3, (0.9, 2.12)),
    ("WASP-43b", 1e-3, wasp43b_wl,
     [(wasp43b_red_hi, wasp43b_red_lo), (wasp43b_blue_hi, wasp43b_blue_lo), (wasp43b_green_hi, wasp43b_green_lo)],
     [wasp43b_t_red, wasp43b_t_blue, wasp43b_t_green], (0, 9e-3), 1e-3, (0.975, 2.2)),
    ("KEPLER-7b", 1e-3, kepler7b_wl,
     [(kepler7b_red_hi, kepler7b_red_lo), (kepler7b_blue_hi, kepler7b_blue_lo), (kepler7b_green_hi, kepler7b_green_lo)],
     [kepler7b_t_red, kepler7b_t_blue, kepler7b_t_green], (0, 2.09e-3), 2.5e-4, (1.0, 2.39)),
    ("WASP-14b", 1e-3, wasp14b_wl,
     [(wasp14b_red_hi, wasp14b_red_lo), (wasp14b_blue_hi, wasp14b_blue_lo), (wasp14b_green_hi, wasp14b_green_lo)],
     [wasp14b_t_red, wasp14b_t_blue, wasp14b_t_green], (0, 3.5e-3), 5e-4, (1.46, 3.02)),
    ("WASP-19b", 1e-3, wasp19b_wl,
     [(wasp19b_red_hi, wasp19b_red_lo), (wasp19b_blue_hi, wasp19b_blue_lo), (wasp19b_green_hi, wasp19b_green_lo)],
     [wasp19b_t_red, wasp19b_t_blue, wasp19b_t_green], (1e-3, 1e-2), 1e-3, (1.59, 3.13)),
    ("WASP-18b", 1e-3, wasp18b_wl,
     [(wasp18b_red_hi, wasp18b_red_lo), (wasp18b_blue_hi, wasp18b_blue_lo), (wasp18b_green_hi, wasp18b_green_lo)],
     [wasp18b_t_red, wasp18b_t_blue, wasp18b_t_green], (0, 4.5e-3), 5e-4, (1.49, 3.0)),
    ("WASP-12b", 1e-3, wasp12b_wl,
     [(wasp12b_red_hi, wasp12b_red_lo), (wasp12b_blue_hi, wasp12b_blue_lo), (wasp12b_green_hi, wasp12b_green_lo)],
     [wasp12b_t_red, wasp12b_t_blue, wasp12b_t_green], (1e-3, 7e-3), 1e-3, (1.98, 3.49)),
    ("WASP-33b", 1e-3, wasp33b_wl,
     [(wasp33b_red_hi, wasp33b_red_lo), (wasp33b_blue_hi, wasp33b_blue_lo), (wasp33b_green_hi, wasp33b_green_lo)],
     [wasp33b_t_red, wasp33b_t_blue, wasp33b_t_green], (1e-3, 6.5e-3), 1e-3, (2.0, 3.53)),
    ("KELT-9b", 1e-3, kelt9b_wl,
     [kelt9b_red, kelt9b_blue, kelt9b_green],
     [kelt9b_t_red, kelt9b_t_blue, kelt9b_t_green], (1e-3, 4e-3), 5e-4, (3.8, 5.31)),
]

fig = plt.figure(figsize=(13.7, 16.87), dpi=100)
col_left = [0.0949, 0.4146, 0.7343]
row_bottom = [0.7493, 0.5110, 0.2727, 0.0344]
w, h = 0.2416, 0.2187
pgrid = 10.0 ** np.array(logp)

for i, (name, unit, wl, bands, tps, ylim, ystep, tlim) in enumerate(panels):
    r, c = divmod(i, 3)
    ax = fig.add_axes([col_left[c], row_bottom[r], w, h])
    wl = np.array(wl)
    for k, band in enumerate(bands):
        if isinstance(band, tuple):
            hi = np.array(band[0]) * unit
            lo = np.array(band[1]) * unit
            ax.fill_between(wl, lo, hi, color=band_colors[k], alpha=0.62, lw=0.6, zorder=2 + k)
        else:
            ax.plot(wl, np.array(band) * unit, color=band_colors[k], alpha=0.75, lw=1.2, zorder=2 + k)

    ax.set_xscale("log")
    ax.set_xlim(1, 20)
    ax.set_ylim(*ylim)
    ax.xaxis.set_major_locator(FixedLocator([1, 2, 3, 5, 10, 20]))
    ax.xaxis.set_major_formatter(FixedFormatter(["1", "2", "3", "5", "10", "20"]))
    ax.xaxis.set_minor_locator(FixedLocator([4, 6, 7, 8, 9]))
    ax.xaxis.set_minor_formatter(NullFormatter())
    ax.yaxis.set_major_locator(MultipleLocator(ystep))
    fmt = ScalarFormatter(useOffset=False)
    fmt.set_scientific(False)
    ax.yaxis.set_major_formatter(fmt)
    ax.tick_params(labelsize=14)
    ax.grid(True, ls=":", color="0.65", lw=0.8)
    if r < 3:
        ax.tick_params(labelbottom=False)
    else:
        ax.set_xlabel(r"wavelength ($\mu$m)", fontsize=14, labelpad=1)
    if c == 0:
        ax.set_ylabel("flux planet / flux star", fontsize=14, labelpad=5)
    ax.text(0.75, 0.943, name, transform=ax.transAxes, ha="center", va="center",
            fontsize=17, zorder=10)

    # T-P inset
    ins = ax.inset_axes([0.06, 0.648, 0.25, 0.30])
    ins.set_facecolor("none")
    for k, t in enumerate(tps):
        ins.plot(t, pgrid, color=tp_colors[k], lw=1.0)
    ins.set_yscale("log")
    ins.set_ylim(1e3, 1e-5)
    ins.set_xlim(*tlim)
    ins.yaxis.tick_right()
    ins.yaxis.set_label_position("right")
    ins.yaxis.set_major_locator(FixedLocator([1e-5, 1e-1, 1e3]))
    ins.yaxis.set_minor_locator(NullLocator())
    ins.xaxis.set_major_locator(MultipleLocator(1))
    ins.tick_params(labelsize=13, pad=2)
    ins.set_xlabel("T (kK)", fontsize=13, labelpad=1)
    ins.set_ylabel("P (bar)", fontsize=13, labelpad=6)
    ins.grid(True, ls=":", color="0.65", lw=0.8)

handles = [Line2D([0], [0], color=band_colors[k], lw=4, alpha=0.7) for k in range(3)]
fig.legend(handles, labels, loc="lower left", bbox_to_anchor=(0.0949, 0.9775, 0.881, 0.0207),
           mode="expand", ncol=3, borderaxespad=0, fancybox=True, facecolor="wheat",
           framealpha=0.5, edgecolor="0.8", fontsize=14, handlelength=1.5)

fig.savefig("out.png", dpi=100)
